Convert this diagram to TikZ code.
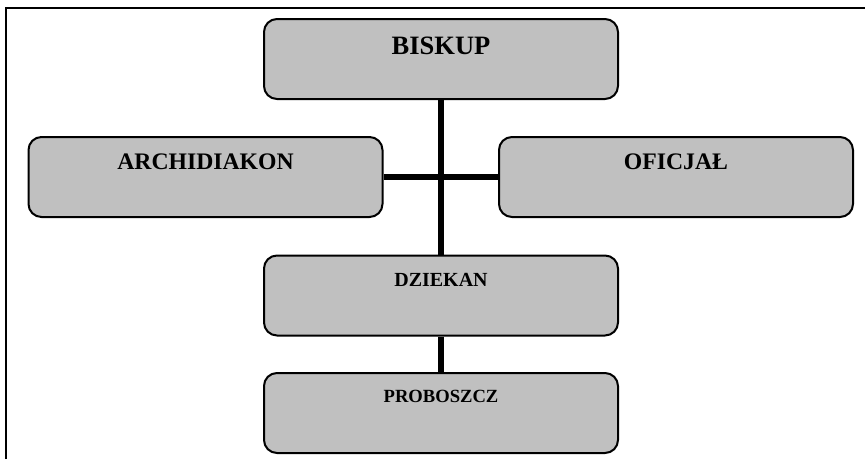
\documentclass[tikz,border=0pt]{standalone}
\usepackage{fontspec}
\setmainfont{Liberation Serif}
\usepackage{tikz}
\usetikzlibrary{calc}
\definecolor{ChartGray}{HTML}{C0C0C0}
\newcommand{\officebox}[5]{%
  \node[draw=black,fill=ChartGray,line width=2pt,rounded corners=13pt,
        minimum width=354pt,minimum height=80pt,inner sep=0pt] (#1) at (#2) {};
  \node[font=\bfseries\fontsize{#3}{#3}\selectfont,inner sep=0pt]
        (#1-label) at ($(#1.north)+(0,#4)$) {#5};}

\begin{document}
\begin{tikzpicture}[x=1pt,y=-1pt]
  \useasboundingbox (0,0) rectangle (865,459);
  % page frame, cut off at right and bottom
  \draw[line width=2pt] (6,459) -- (6,8) -- (865,8);
  \officebox{biskup}{441,59}{26.5}{28}{BISKUP}
  \officebox{archidiakon}{205.5,177}{23.7}{26}{ARCHIDIAKON}
  \officebox{oficjal}{676,177}{23.7}{26}{OFICJAŁ}
  \officebox{dziekan}{441,295.5}{20}{25}{DZIEKAN}
  \officebox{proboszcz}{441,413}{18.6}{24}{PROBOSZCZ}
  \draw[line width=6pt] (biskup) -- (dziekan);
  \draw[line width=6pt] (archidiakon) -- (oficjal);
  \draw[line width=6pt] (dziekan) -- (proboszcz);
\end{tikzpicture}
\end{document}
